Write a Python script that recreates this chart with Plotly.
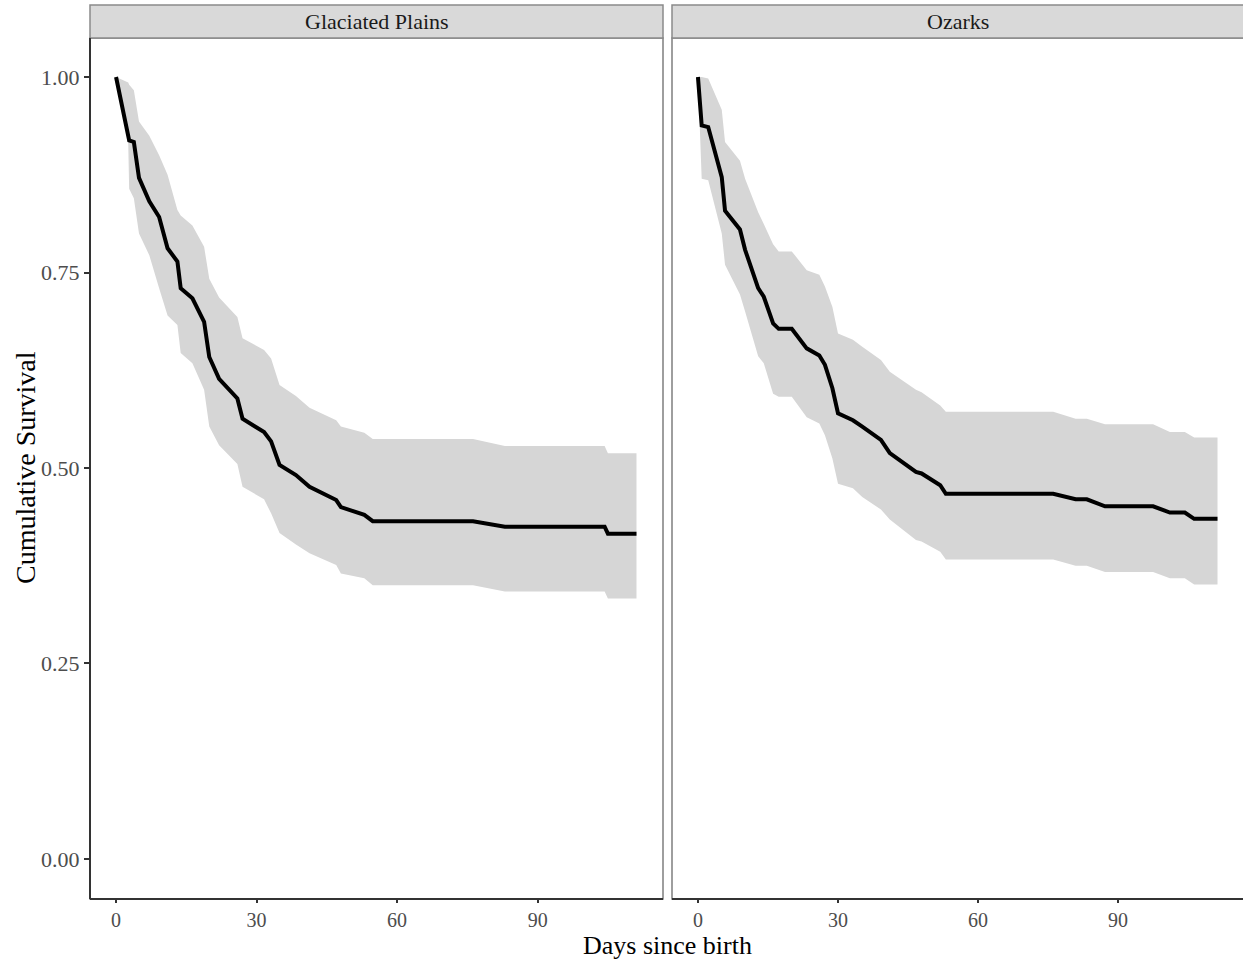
import plotly.graph_objects as go

# ---- Data ----
panels = ["Glaciated Plains", "Ozarks"]

gp_days = [0, 2.6, 2.8, 3.8, 4.9, 7.1, 9.2, 11, 13.1, 13.8, 16.3, 18.8, 19.9, 22, 25.9, 27,
           31.6, 33.1, 34.9, 38.4, 41.3, 47, 48, 53, 54.8, 76.2, 83, 104.3, 105, 111.1]
gp_surv = [1.0, 0.925, 0.919, 0.917, 0.871, 0.841, 0.821, 0.781, 0.764, 0.730, 0.717, 0.687,
           0.642, 0.614, 0.589, 0.563, 0.546, 0.534, 0.504, 0.491, 0.476, 0.459, 0.450, 0.440,
           0.432, 0.432, 0.425, 0.425, 0.416, 0.416]
gp_upper = [1.0, 0.993, 0.99, 0.983, 0.943, 0.925, 0.90, 0.875, 0.83, 0.823, 0.81, 0.783,
            0.742, 0.718, 0.693, 0.666, 0.651, 0.640, 0.606, 0.592, 0.577, 0.561, 0.553, 0.545,
            0.537, 0.537, 0.528, 0.528, 0.519, 0.519]
gp_lower = [1.0, 0.916, 0.857, 0.845, 0.800, 0.772, 0.73, 0.695, 0.683, 0.647, 0.634, 0.600,
            0.553, 0.529, 0.505, 0.476, 0.460, 0.442, 0.417, 0.402, 0.391, 0.376, 0.365, 0.359,
            0.350, 0.350, 0.342, 0.342, 0.333, 0.333]

oz_days = [0, 0.8, 2.2, 5.1, 5.8, 9.0, 10.1, 12.9, 14.1, 16.1, 17.3, 20.1, 23.3, 26.0, 27.2,
           28.8, 30.0, 33.2, 35.2, 39.2, 41.1, 46.7, 47.9, 51.9, 53.1, 76.1, 80.9, 83.3, 87.2,
           97.5, 101.1, 104.3, 106.3, 111.3]
oz_surv = [1.0, 0.938, 0.936, 0.872, 0.829, 0.805, 0.779, 0.730, 0.719, 0.685, 0.678, 0.678,
           0.653, 0.644, 0.632, 0.602, 0.570, 0.561, 0.553, 0.536, 0.519, 0.495, 0.493, 0.478,
           0.467, 0.467, 0.460, 0.460, 0.451, 0.451, 0.443, 0.443, 0.435, 0.435]
oz_upper = [1.0, 1.0, 0.998, 0.958, 0.917, 0.893, 0.870, 0.827, 0.812, 0.786, 0.777, 0.777,
            0.753, 0.747, 0.732, 0.706, 0.672, 0.664, 0.655, 0.638, 0.623, 0.600, 0.597, 0.580,
            0.572, 0.572, 0.563, 0.563, 0.556, 0.556, 0.546, 0.546, 0.539, 0.539]
oz_lower = [1.0, 0.87, 0.868, 0.800, 0.760, 0.722, 0.700, 0.643, 0.634, 0.595, 0.591, 0.591,
            0.565, 0.557, 0.542, 0.512, 0.480, 0.474, 0.463, 0.447, 0.434, 0.408, 0.406, 0.393,
            0.383, 0.383, 0.375, 0.375, 0.367, 0.367, 0.359, 0.359, 0.351, 0.351]

x_ticks = [0, 30, 60, 90]
y_ticks = [0, 0.25, 0.5, 0.75, 1.0]
y_tick_labels = ["0.00", "0.25", "0.50", "0.75", "1.00"]

# ---- Figure ----
W, H = 1243, 961
ML, MR, MT, MB = 90, 0, 38, 62
pw = W - ML - MR
ph = H - MT - MB
dom_left = [0, (663 - ML) / pw]
dom_right = [(672 - ML) / pw, 1.0]

FONT = "Liberation Serif, Times New Roman, serif"
BAND = "#d6d6d6"

fig = go.Figure()
series = [(gp_days, gp_surv, gp_upper, gp_lower, "x", "y"),
          (oz_days, oz_surv, oz_upper, oz_lower, "x2", "y2")]
for d, s, up, lo, xa, ya in series:
    fig.add_trace(go.Scatter(x=d, y=lo, mode="lines", line=dict(width=0, color=BAND),
                             hoverinfo="skip", showlegend=False, xaxis=xa, yaxis=ya))
    fig.add_trace(go.Scatter(x=d, y=up, mode="lines", line=dict(width=0, color=BAND),
                             fill="tonexty", fillcolor=BAND, hoverinfo="skip",
                             showlegend=False, xaxis=xa, yaxis=ya))
    fig.add_trace(go.Scatter(x=d, y=s, mode="lines", line=dict(width=4, color="black"),
                             showlegend=False, xaxis=xa, yaxis=ya))

xmax = 111.2
xr = [-0.05 * xmax, 1.05 * xmax]
yr = [-0.0512, 1.0499]

tickfont = dict(family=FONT, size=22, color="#4d4d4d")
xtickfont = dict(family=FONT, size=20, color="#4d4d4d")
common_x = dict(range=xr, tickvals=x_ticks, ticks="outside", ticklen=3, tickwidth=1.5,
                tickcolor="#333333", tickfont=xtickfont, showgrid=False, zeroline=False,
                showline=False, fixedrange=True)
fig.update_layout(
    width=W, height=H,
    margin=dict(l=ML, r=MR, t=MT, b=MB),
    paper_bgcolor="white", plot_bgcolor="white",
    xaxis=dict(domain=dom_left, anchor="y", **common_x),
    xaxis2=dict(domain=dom_right, anchor="y2", **common_x),
    yaxis=dict(domain=[0, 1], anchor="x", range=yr, tickvals=y_ticks, ticktext=y_tick_labels,
               ticks="outside", ticklen=5, tickwidth=1.5, tickcolor="#333333",
               tickfont=tickfont, showgrid=False, zeroline=False, showline=False),
    yaxis2=dict(domain=[0, 1], anchor="x2", range=yr, showticklabels=False, ticks="",
                showgrid=False, zeroline=False, showline=False),
    showlegend=False,
)

shapes = []
strip_top = 1 + (MT - 5) / ph
for i, (dom, name) in enumerate(zip([dom_left, dom_right], panels)):
    x1 = dom[1] if i == 0 else 1.01
    # panel border (gray)
    shapes.append(dict(type="rect", xref="paper", yref="paper", x0=dom[0], x1=x1, y0=0, y1=1,
                       line=dict(color="#7f7f7f", width=1.5), fillcolor="rgba(0,0,0,0)",
                       layer="above"))
    # strip
    shapes.append(dict(type="rect", xref="paper", yref="paper", x0=dom[0], x1=x1, y0=1,
                       y1=strip_top, line=dict(color="#8a8a8a", width=1.5), fillcolor="#d9d9d9",
                       layer="above"))
    # bottom axis line (dark)
    shapes.append(dict(type="line", xref="paper", yref="paper", x0=dom[0], x1=x1, y0=0, y1=0,
                       line=dict(color="#333333", width=2), layer="above"))
    fig.add_annotation(text=name, xref="paper", yref="paper", x=(dom[0] + min(dom[1], 1)) / 2,
                       y=(1 + strip_top) / 2, showarrow=False, xanchor="center", yanchor="middle",
                       font=dict(family=FONT, size=22, color="#1a1a1a"))
# left axis line of first panel (dark)
shapes.append(dict(type="line", xref="paper", yref="paper", x0=0, x1=0, y0=0, y1=1,
                   line=dict(color="#333333", width=2), layer="above"))
fig.update_layout(shapes=shapes)

fig.add_annotation(text="Days since birth", xref="paper", yref="paper",
                   x=(667 - ML) / pw, y=-(945 - (MT + ph)) / ph, showarrow=False,
                   xanchor="center", yanchor="middle",
                   font=dict(family=FONT, size=26, color="black"))
fig.add_annotation(text="Cumulative Survival", xref="paper", yref="paper",
                   x=-(ML - 25) / pw, y=(MT + ph - 468) / ph, showarrow=False, textangle=-90,
                   xanchor="center", yanchor="middle",
                   font=dict(family=FONT, size=28, color="black"))

fig.write_html("out.html")
